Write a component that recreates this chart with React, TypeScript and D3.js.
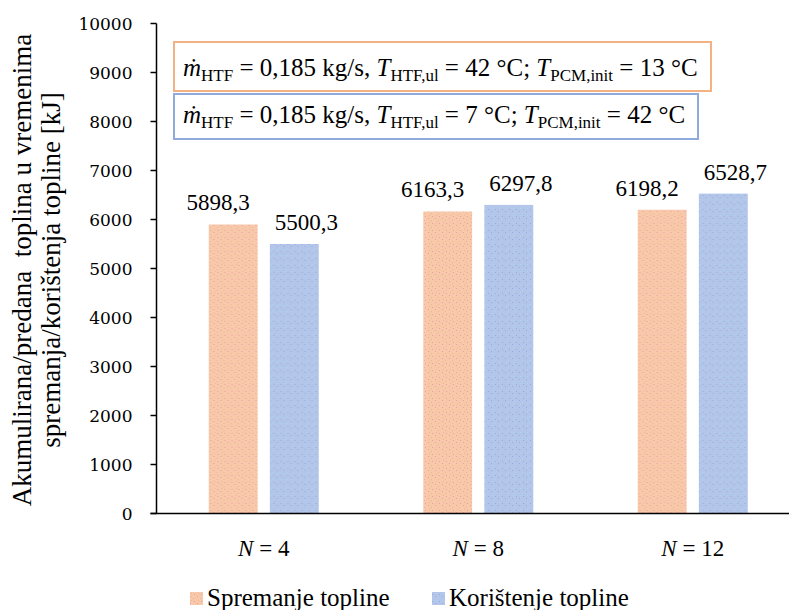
import React from "react";
import * as d3 from "d3";

const categories = ["4", "8", "12"];
const seriesNames = ["Spremanje topline", "Korištenje topline"];
const storing = [5898.3, 6163.3, 6198.2];
const using = [5500.3, 6297.8, 6528.7];
const yTicks = [0, 1000, 2000, 3000, 4000, 5000, 6000, 7000, 8000, 9000, 10000];
const yTitle = ["Akumulirana/predana\u00A0 toplina u vremenima", "spremanja/korištenja topline [kJ]"];

const W = 789;
const H = 610;
const left = 156.5;
const top = 23.5;
const bottom = 513.5;
const plotRight = 800;

const colors = ["#F8C8AA", "#B3C5E8"];
const dotColors = [["#EE9E9C", "#F3B38E"], ["#94ACE0", "#A9D8EE"]];
const borderColors = ["#F4B183", "#8FAADC"];

const serif: React.CSSProperties = { fontFamily: "Liberation Serif" };
const tickFont: React.CSSProperties = { fontFamily: "DejaVu Serif" };

export default function App() {
  const y = d3.scaleLinear().domain([0, 10000]).range([bottom, top]);
  const x0 = d3.scaleBand<string>().domain(categories).range([left, plotRight]).padding(0);
  const bw = x0.bandwidth();
  const x1 = d3
    .scaleBand<string>()
    .domain(seriesNames)
    .range([bw / 2 - 55, bw / 2 + 55])
    .paddingInner(0.2);
  const values = [storing, using];
  const labelShift = [-15, 12];
  const fmt = (v: number) => v.toFixed(1).replace(".", ",");

  const legendLine = (tIn: string, tInit: string, yBase: number) => (
    <text x={183} y={yBase} style={{ ...serif, fontSize: 25 }} fill="#000">
      <tspan fontStyle="italic">ṁ</tspan>
      <tspan style={{ fontSize: 17 }} dy={5}>HTF</tspan>
      <tspan dy={-5}> = 0,185 kg/s, </tspan>
      <tspan fontStyle="italic">T</tspan>
      <tspan style={{ fontSize: 17 }} dy={5}>HTF,ul</tspan>
      <tspan dy={-5}>{` = ${tIn} °C; `}</tspan>
      <tspan fontStyle="italic">T</tspan>
      <tspan style={{ fontSize: 17 }} dy={5}>PCM,init</tspan>
      <tspan dy={-5}>{` = ${tInit} °C`}</tspan>
    </text>
  );

  return (
    <svg width={W} height={H} style={{ position: "absolute", left: 0, top: 0, background: "#fff" }}>
      <defs>
        {colors.map((c, j) => (
          <pattern key={j} id={`pat${j}`} width={7} height={7} patternUnits="userSpaceOnUse">
            <rect width={7} height={7} fill={c} />
            <rect x={1} y={1} width={1} height={1} fill={dotColors[j][0]} />
            <rect x={4} y={3} width={1} height={1} fill={dotColors[j][1]} />
            <rect x={2} y={5} width={1} height={1} fill={dotColors[j][1]} />
            <rect x={5} y={6} width={1} height={1} fill={dotColors[j][0]} />
          </pattern>
        ))}
      </defs>
      <rect x={0} y={0} width={W} height={H} fill="#fff" />
      {categories.map((c, i) => (
        <g key={c} transform={`translate(${x0(c)},0)`}>
          {seriesNames.map((s, j) => {
            const v = values[j][i];
            const bx = x1(s)!;
            return (
              <g key={s}>
                <rect x={bx} y={y(v)} width={x1.bandwidth()} height={y(0) - y(v)} fill={`url(#pat${j})`} />
                <text
                  x={bx + x1.bandwidth() / 2 + labelShift[j]}
                  y={y(v) - 14}
                  textAnchor="middle"
                  style={{ ...serif, fontSize: 23 }}
                  fill="#000"
                >
                  {fmt(v)}
                </text>
              </g>
            );
          })}
          <text x={bw / 2} y={556} textAnchor="middle" style={{ ...serif, fontSize: 23 }} fill="#000">
            <tspan fontStyle="italic">N</tspan>
            <tspan>{` = ${c}`}</tspan>
          </text>
        </g>
      ))}
      <line x1={left} x2={left} y1={top} y2={bottom} stroke="#000" strokeWidth={1.5} />
      <line x1={left - 6} x2={W} y1={bottom} y2={bottom} stroke="#000" strokeWidth={1.5} />
      {yTicks.map((t) => (
        <g key={t}>
          <line x1={left - 6} x2={left} y1={y(t)} y2={y(t)} stroke="#000" strokeWidth={1.5} />
          <text
            x={left - 24}
            y={y(t)}
            dy="0.36em"
            textAnchor="end"
            style={{ ...tickFont, fontSize: 17 }}
            fill="#000"
          >
            {t}
          </text>
        </g>
      ))}
      <g transform={`translate(0,270) rotate(-90)`}>
        {yTitle.map((line, k) => (
          <text key={k} x={0} y={31 + k * 29} textAnchor="middle" style={{ ...serif, fontSize: 27 }} fill="#000">
            {line}
          </text>
        ))}
      </g>
      <rect x={174} y={42} width={537} height={49} fill="#fff" stroke={borderColors[0]} strokeWidth={2} />
      {legendLine("42", "13", 76)}
      <rect x={174} y={94} width={524} height={45} fill="#fff" stroke={borderColors[1]} strokeWidth={2} />
      {legendLine("7", "42", 123)}
      {seriesNames.map((s, j) => {
        const lx = j === 0 ? 190 : 432;
        return (
          <g key={s}>
            <rect x={lx} y={592} width={13} height={13} fill={`url(#pat${j})`} />
            <text x={lx + 17} y={606} style={{ ...serif, fontSize: 25 }} fill="#000">
              {s}
            </text>
          </g>
        );
      })}
    </svg>
  );
}
